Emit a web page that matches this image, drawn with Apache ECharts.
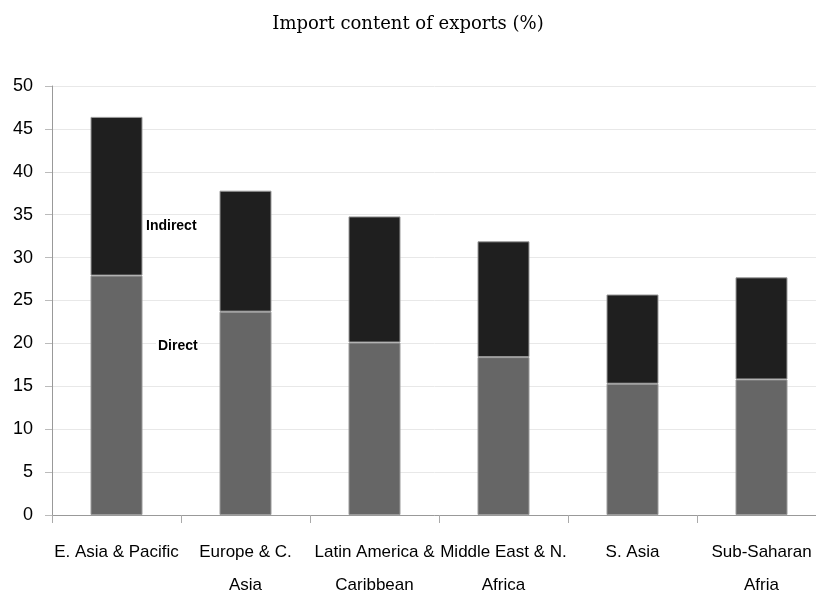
<!DOCTYPE html>
<html>
<head>
<meta charset="utf-8">
<script src="https://cdn.jsdelivr.net/npm/echarts@6/dist/echarts.min.js"></script>
<style>html,body{margin:0;padding:0;background:#fff}#c{width:816px;height:591px}</style>
</head>
<body>
<div id="c"></div>
<script>
const categories = ["E. Asia & Pacific", "Europe & C.\nAsia", "Latin America &\nCaribbean", "Middle East & N.\nAfrica", "S. Asia", "Sub-Saharan\nAfria"];
const directValues = [27.9, 23.7, 20.1, 18.4, 15.3, 15.8];
const indirectValues = [18.5, 14.1, 14.7, 13.5, 10.4, 11.9];
const yTicks = {min: 0, max: 50, interval: 5};
const titleText = "Import content of exports (%)";

const chart = echarts.init(document.getElementById('c'), null, {renderer: 'canvas'});
chart.setOption({
  animation: false,
  backgroundColor: '#fff',
  title: {
    text: titleText, left: 'center', top: 10,
    textStyle: {fontFamily: 'DejaVu Serif', fontWeight: 'normal', fontSize: 18, color: '#000'}
  },
  grid: {left: 52, top: 86, width: 774, height: 429, outerBoundsMode: 'none', containLabel: false},
  xAxis: {
    type: 'category', data: categories, boundaryGap: true,
    axisLine: {lineStyle: {color: '#999', width: 1}},
    axisTick: {show: true, length: 8, lineStyle: {color: '#aaa'}},
    axisLabel: {fontFamily: 'Liberation Sans', fontSize: 17, color: '#000', lineHeight: 33, margin: 21, interval: 0}
  },
  yAxis: {
    type: 'value', min: yTicks.min, max: yTicks.max, interval: yTicks.interval,
    axisLine: {show: true, lineStyle: {color: '#999', width: 1}},
    axisTick: {show: true, length: 7, lineStyle: {color: '#bbb'}},
    splitLine: {lineStyle: {color: '#e8e8e8'}},
    axisLabel: {fontFamily: 'Liberation Sans', fontSize: 18, color: '#000', margin: 19}
  },
  series: [
    {name: 'Direct', type: 'bar', stack: 'total', data: directValues, barWidth: 52,
     itemStyle: {color: '#666666', borderColor: '#9a9a9a', borderWidth: 1}},
    {name: 'Indirect', type: 'bar', stack: 'total', data: indirectValues, barWidth: 52,
     itemStyle: {color: '#1f1f1f', borderColor: '#9a9a9a', borderWidth: 1}}
  ],
  graphic: [
    {type: 'text', left: 146, top: 219, z: 100, style: {text: 'Indirect', font: 'bold 14px "Liberation Sans"', fill: '#000'}},
    {type: 'text', left: 156, top: 338, z: 100, style: {text: 'Direct', font: 'bold 14px "Liberation Sans"', fill: '#000', backgroundColor: '#fff', padding: [1, 2]}}
  ]
});
</script>
</body>
</html>
